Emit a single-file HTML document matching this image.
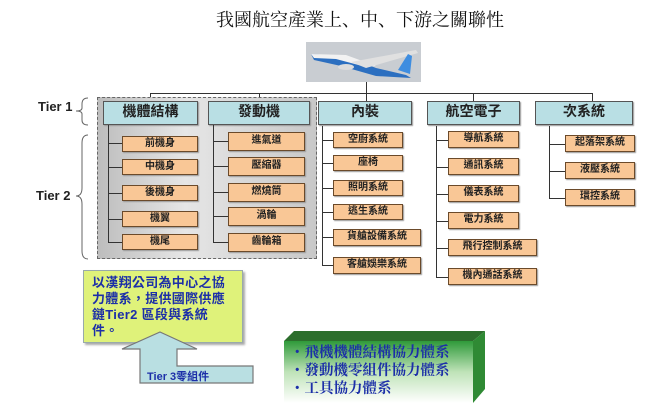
<!DOCTYPE html>
<html><head><meta charset="utf-8"><style>
*{margin:0;padding:0;box-sizing:border-box}
body{width:648px;height:413px;background:#fff;position:relative;overflow:hidden;font-family:"Liberation Sans","Noto Sans CJK TC",sans-serif}
.a{position:absolute}
.h{position:absolute;background:#b9dfe4;border:1.5px solid #555;font:bold 14px "Liberation Serif","Noto Sans CJK TC",serif;color:#222;text-align:center;line-height:21px;box-shadow:1px 1px 1px #999}
.c{position:absolute;background:#f9c796;border:1.5px solid #6b4a2a;font:bold 10px "Liberation Serif","Noto Sans CJK TC",serif;color:#222;text-align:center;box-shadow:1px 1px 1px #999}
.l{position:absolute;background:#333}
</style></head><body>
<div class="a" style="left:0;width:648px;top:6px;text-align:center;padding-left:72px;font:18px 'Noto Serif CJK SC',serif;color:#111">我國航空產業上、中、下游之關聯性</div>
<svg class="a" style="left:306px;top:42px" width="115" height="40">
<rect width="115" height="40" fill="#c9cdd2"/>
<path d="M5 12 L40 14 L70 26 L100 33 L105 36 L70 34 L35 24 L8 18 Z" fill="#2c6fc0"/>
<path d="M5 12 L40 13 L70 24 L60 25 L30 17 L8 16Z" fill="#f2f2f2"/>
<path d="M45 20 L110 8 L112 11 L60 26Z" fill="#e0e0e0"/>
<path d="M92 28 L102 12 L106 14 L104 32Z" fill="#3e8de0"/>
<ellipse cx="40" cy="25" rx="8" ry="3" fill="#ddd"/>
</svg>
<div class="l" style="left:366px;top:82px;width:1px;height:12px"></div>
<div class="l" style="left:150px;top:93px;width:443px;height:1px"></div>
<div class="l" style="left:150px;top:93px;width:1px;height:9px"></div>
<div class="l" style="left:259px;top:93px;width:1px;height:9px"></div>
<div class="l" style="left:366px;top:93px;width:1px;height:9px"></div>
<div class="l" style="left:473px;top:93px;width:1px;height:9px"></div>
<div class="l" style="left:592px;top:93px;width:1px;height:9px"></div>
<div class="a" style="left:97px;top:97px;width:220px;height:162px;border:1px dashed #666;background:linear-gradient(90deg,#bdbdbd,#e6e6e6 40%,#c8c8c8)"></div>
<div class="a" style="left:38px;top:99px;font:bold 13px 'Liberation Sans',sans-serif;color:#222">Tier 1</div>
<div class="a" style="left:36px;top:188px;font:bold 13px 'Liberation Sans',sans-serif;color:#222">Tier 2</div>
<svg class="a" style="left:74px;top:96px" width="20" height="166"><path d="M14 2 Q8 2 8 8 L8 12 Q8 15 2 15 Q8 15 8 18 L8 24 Q8 29 14 29" fill="none" stroke="#666" stroke-width="1"/><path d="M14 39 Q8 39 8 47 L8 92 Q8 100 2 100 Q8 100 8 108 L8 155 Q8 163 14 163" fill="none" stroke="#666" stroke-width="1"/></svg>
<div class="h" style="left:103px;top:101px;width:95px;height:24px">機體結構</div>
<div class="h" style="left:208px;top:101px;width:102px;height:24px">發動機</div>
<div class="h" style="left:318px;top:101px;width:94px;height:24px">內裝</div>
<div class="h" style="left:427px;top:101px;width:93px;height:24px">航空電子</div>
<div class="h" style="left:535px;top:101px;width:98px;height:24px">次系統</div>
<div class="l" style="left:108px;top:125px;width:1px;height:118px"></div>
<div class="l" style="left:213px;top:125px;width:1px;height:118px"></div>
<div class="l" style="left:322px;top:126px;width:1px;height:140px"></div>
<div class="l" style="left:436px;top:126px;width:1px;height:151px"></div>
<div class="l" style="left:549px;top:126px;width:1px;height:72px"></div>
<div class="l" style="left:108px;top:143px;width:14px;height:1px"></div><div class="c" style="left:122px;top:136px;width:76px;height:16px;line-height:13px">前機身</div>
<div class="l" style="left:108px;top:167px;width:14px;height:1px"></div><div class="c" style="left:122px;top:159px;width:76px;height:16px;line-height:13px">中機身</div>
<div class="l" style="left:108px;top:193px;width:14px;height:1px"></div><div class="c" style="left:122px;top:185px;width:76px;height:16px;line-height:13px">後機身</div>
<div class="l" style="left:108px;top:219px;width:14px;height:1px"></div><div class="c" style="left:122px;top:211px;width:76px;height:16px;line-height:13px">機翼</div>
<div class="l" style="left:108px;top:242px;width:14px;height:1px"></div><div class="c" style="left:122px;top:234px;width:76px;height:16px;line-height:13px">機尾</div>
<div class="l" style="left:213px;top:141px;width:15px;height:1px"></div><div class="c" style="left:228px;top:132px;width:77px;height:19px;line-height:16px">進氣道</div>
<div class="l" style="left:213px;top:166px;width:15px;height:1px"></div><div class="c" style="left:228px;top:157px;width:77px;height:19px;line-height:16px">壓縮器</div>
<div class="l" style="left:213px;top:192px;width:15px;height:1px"></div><div class="c" style="left:228px;top:183px;width:77px;height:19px;line-height:16px">燃燒筒</div>
<div class="l" style="left:213px;top:216px;width:15px;height:1px"></div><div class="c" style="left:228px;top:207px;width:77px;height:19px;line-height:16px">渦輪</div>
<div class="l" style="left:213px;top:242px;width:15px;height:1px"></div><div class="c" style="left:228px;top:233px;width:77px;height:19px;line-height:16px">齒輪箱</div>
<div class="l" style="left:322px;top:140px;width:11px;height:1px"></div><div class="c" style="left:333px;top:132px;width:70px;height:16px;line-height:13px">空廚系統</div>
<div class="l" style="left:322px;top:163px;width:11px;height:1px"></div><div class="c" style="left:333px;top:155px;width:70px;height:16px;line-height:13px">座椅</div>
<div class="l" style="left:322px;top:188px;width:11px;height:1px"></div><div class="c" style="left:333px;top:180px;width:70px;height:16px;line-height:13px">照明系統</div>
<div class="l" style="left:322px;top:212px;width:11px;height:1px"></div><div class="c" style="left:333px;top:204px;width:70px;height:16px;line-height:13px">逃生系統</div>
<div class="l" style="left:322px;top:237px;width:11px;height:1px"></div><div class="c" style="left:333px;top:229px;width:88px;height:17px;line-height:14px">貨艙設備系統</div>
<div class="l" style="left:322px;top:265px;width:11px;height:1px"></div><div class="c" style="left:333px;top:257px;width:88px;height:17px;line-height:14px">客艙娛樂系統</div>
<div class="l" style="left:436px;top:140px;width:12px;height:1px"></div><div class="c" style="left:448px;top:131px;width:71px;height:17px;line-height:14px">導航系統</div>
<div class="l" style="left:436px;top:167px;width:12px;height:1px"></div><div class="c" style="left:448px;top:158px;width:71px;height:17px;line-height:14px">通訊系統</div>
<div class="l" style="left:436px;top:194px;width:12px;height:1px"></div><div class="c" style="left:448px;top:185px;width:71px;height:17px;line-height:14px">儀表系統</div>
<div class="l" style="left:436px;top:221px;width:12px;height:1px"></div><div class="c" style="left:448px;top:212px;width:71px;height:17px;line-height:14px">電力系統</div>
<div class="l" style="left:436px;top:248px;width:12px;height:1px"></div><div class="c" style="left:448px;top:239px;width:89px;height:17px;line-height:14px">飛行控制系統</div>
<div class="l" style="left:436px;top:277px;width:12px;height:1px"></div><div class="c" style="left:448px;top:268px;width:89px;height:17px;line-height:14px">機內通話系統</div>
<div class="l" style="left:549px;top:144px;width:16px;height:1px"></div><div class="c" style="left:565px;top:135px;width:70px;height:17px;line-height:14px">起落架系統</div>
<div class="l" style="left:549px;top:171px;width:16px;height:1px"></div><div class="c" style="left:565px;top:162px;width:70px;height:17px;line-height:14px">液壓系統</div>
<div class="l" style="left:549px;top:198px;width:16px;height:1px"></div><div class="c" style="left:565px;top:189px;width:70px;height:17px;line-height:14px">環控系統</div>
<div class="a" style="left:83px;top:270px;width:160px;height:73px;background:#dff27a;border:1px solid #9aa;box-shadow:2px 2px 2px #aaa;padding:4px 0 0 8px;font:bold 13px/16px 'Liberation Sans','Noto Sans CJK TC',sans-serif;color:#1c2fa8;letter-spacing:0.3px">以漢翔公司為中心之協<br>力體系，提供國際供應<br>鏈Tier2 區段與系統<br>件。</div>
<svg class="a" style="left:115px;top:328px" width="145" height="60"><path d="M45 4 L82 21 L62 21 L62 38 L138 38 L138 55 L25 55 L25 21 L7 21 Z" fill="#b9dfe2" stroke="#777" stroke-width="1.2"/></svg>
<div class="a" style="left:147px;top:368px;font:bold 11px 'Liberation Sans','Noto Sans CJK TC',sans-serif;color:#1c2fa8">Tier 3零組件</div>
<svg class="a" style="left:282px;top:329px" width="206" height="78"><defs><linearGradient id="g" x1="0" y1="0" x2="0" y2="1"><stop offset="0" stop-color="#2f9a3a"/><stop offset="0.5" stop-color="#bfe3b8"/><stop offset="1" stop-color="#fff"/></linearGradient></defs>
<path d="M2 12 L12 2 L203 2 L191 12Z" fill="#2c6e2c"/>
<path d="M191 12 L203 2 L203 60 L191 74Z" fill="#2f8a34"/>
<rect x="2" y="12" width="189" height="62" fill="url(#g)"/></svg>
<div class="a" style="left:290px;top:343px;font:bold 14.5px/18px 'Noto Serif CJK SC',serif;color:#1c2fa8">・飛機機體結構協力體系<br>・發動機零組件協力體系<br>・工具協力體系</div>
</body></html>
